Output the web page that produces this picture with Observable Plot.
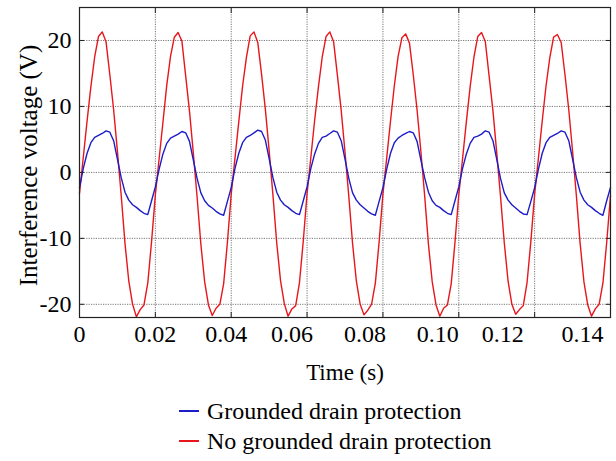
<!DOCTYPE html>
<html>
<head>
<meta charset="utf-8">
<script src="https://cdn.jsdelivr.net/npm/d3@7"></script>
<script src="https://cdn.jsdelivr.net/npm/@observablehq/plot@0.6"></script>
<style>
  html, body { margin: 0; padding: 0; background: #fff; }
  #chart { position: relative; width: 616px; height: 461px; font-family: "Liberation Serif", "Times New Roman", serif; }
  .legend { position: absolute; left: 179px; top: 396px; font-size: 24px; color: #000; }
  .row { display: flex; align-items: center; height: 30px; white-space: nowrap; }
  .swatch { display: inline-block; width: 20px; height: 1.5px; margin-right: 8px; }
</style>
</head>
<body>
<div id="chart"></div>
<script>
// Sampling step of the recorded waveforms (s)
const step = 0.001;

// Interference voltage without grounded drain protection (V), one value per ms from t = 0 to 0.14 s
const redValues = [
  -3.2, 2.3, 7.8, 13.0, 17.5, 20.6, 21.3, 19.8, 14.8, 9.5, 3.2, -3.5, -10.8, -16.5, -20.0, -21.9, -20.8, -20.1, -16.8, -10.5,
  -3.4, 2.1, 7.6, 13.2, 17.6, 20.5, 21.2, 19.9, 14.6, 9.3, 3.0, -3.7, -10.9, -16.6, -20.1, -21.7, -20.6, -20.0, -16.9, -10.6,
  -3.3, 2.2, 7.7, 13.1, 17.4, 20.7, 21.3, 19.7, 14.9, 9.6, 3.3, -3.4, -10.7, -16.4, -19.9, -21.8, -20.7, -20.2, -16.7, -10.4,
  -3.2, 2.3, 7.9, 13.0, 17.5, 20.6, 21.3, 19.8, 14.7, 9.4, 3.1, -3.6, -10.8, -16.5, -20.0, -21.6, -20.9, -20.0, -16.8, -10.5,
  -3.3, 2.2, 7.8, 13.1, 17.6, 20.4, 21.0, 19.6, 14.8, 9.5, 3.2, -3.5, -10.9, -16.6, -20.1, -21.8, -20.6, -20.1, -16.9, -10.6,
  -3.4, 2.1, 7.7, 13.0, 17.5, 20.6, 21.2, 19.8, 14.6, 9.4, 3.0, -3.6, -10.7, -16.5, -20.0, -21.5, -20.8, -20.2, -16.7, -10.5,
  -3.3, 2.2, 7.8, 13.1, 17.4, 20.5, 20.9, 19.7, 14.8, 9.5, 3.2, -3.5, -10.8, -16.6, -20.1, -21.8, -20.7, -20.0, -16.8, -10.6,
  -3.5
];

// Interference voltage with grounded drain protection (V), same sampling
const blueValues = [
  -2.3, 0.6, 2.9, 4.5, 5.3, 5.6, 5.9, 6.3, 6.1, 4.8, 2.0, -0.8, -3.0, -4.2, -4.9, -5.3, -5.8, -6.2, -6.4, -4.3,
  -2.2, 0.5, 2.8, 4.4, 5.2, 5.5, 5.8, 6.2, 6.0, 4.7, 1.9, -0.9, -3.1, -4.3, -5.0, -5.4, -5.9, -6.3, -6.5, -4.4,
  -2.3, 0.6, 2.9, 4.5, 5.3, 5.6, 6.0, 6.4, 6.2, 4.9, 2.1, -0.8, -3.0, -4.2, -4.9, -5.3, -5.8, -6.2, -6.4, -4.3,
  -2.2, 0.6, 2.8, 4.4, 5.3, 5.5, 5.9, 6.3, 6.1, 4.8, 2.0, -0.9, -3.1, -4.2, -4.9, -5.4, -5.9, -6.3, -6.5, -4.4,
  -2.3, 0.5, 2.9, 4.5, 5.2, 5.6, 5.9, 6.2, 6.0, 4.7, 1.9, -0.8, -3.0, -4.3, -5.0, -5.3, -5.8, -6.2, -6.4, -4.3,
  -2.2, 0.6, 2.8, 4.4, 5.3, 5.5, 5.8, 6.3, 6.1, 4.8, 2.0, -0.9, -3.1, -4.2, -4.9, -5.4, -5.9, -6.3, -6.4, -4.4,
  -2.3, 0.5, 2.9, 4.5, 5.3, 5.6, 5.9, 6.3, 6.1, 4.8, 2.0, -0.8, -3.0, -4.2, -4.9, -5.3, -5.8, -6.2, -6.5, -4.3,
  -2.3
];

const xTicks = [0, 0.02, 0.04, 0.06, 0.08, 0.10, 0.12, 0.14];
const xTickLabels = ["0", "0.02", "0.04", "0.06", "0.08", "0.10", "0.12", "0.14"];
const yTicks = [-20, -10, 0, 10, 20];
const yTickLabels = ["-20", "-10", "0", "10", "20"];
const seriesNames = ["Grounded drain protection", "No grounded drain protection"];
const seriesColors = ["#1c1cc8", "#e8161c"];

const blueData = blueValues.map((v, i) => ({t: i * step, v}));
const redData = redValues.map((v, i) => ({t: i * step, v}));

// horizontal nudges of the x tick labels, as they sit in the original figure (px)
const xLabelNudge = [0, 0, -5, -15, -18, -21, -32, -28];

const gridStyle = {stroke: "#777", strokeOpacity: 1, strokeWidth: 1, strokeDasharray: "1.2,1.2"};
const inTick = {tickSize: -5, tickFormat: () => "", label: null, stroke: "#222"};

const xLabelAxes = xTicks.map((t, i) =>
  Plot.axisX([t], {anchor: "bottom", tickSize: 0, tickPadding: 7, fontSize: 24,
    tickFormat: () => xTickLabels[i], label: null, dx: xLabelNudge[i]})
);

const plot = Plot.plot({
  width: 616,
  height: 392,
  marginLeft: 79,
  marginRight: 6,
  marginTop: 7,
  marginBottom: 75,
  style: {fontFamily: "'Liberation Serif', 'Times New Roman', serif", fontSize: "24px", background: "#fff", color: "#000", overflow: "visible"},
  x: {domain: [0, 0.14]},
  y: {domain: [-22, 25]},
  marks: [
    Plot.gridX(xTicks.slice(1, -1), gridStyle),
    Plot.gridY(yTicks, gridStyle),
    Plot.line(redData, {x: "t", y: "v", stroke: seriesColors[1], strokeWidth: 1.4}),
    Plot.line(blueData, {x: "t", y: "v", stroke: seriesColors[0], strokeWidth: 1.4}),
    Plot.frame({stroke: "#222", strokeWidth: 1.2}),
    // inward tick marks on all four sides
    Plot.axisX(xTicks, {anchor: "bottom", ...inTick}),
    Plot.axisX(xTicks, {anchor: "top", ...inTick}),
    Plot.axisY(yTicks, {anchor: "left", ...inTick}),
    Plot.axisY(yTicks, {anchor: "right", ...inTick}),
    // tick labels
    ...xLabelAxes,
    Plot.axisY(yTicks, {anchor: "left", tickSize: 0, tickPadding: 8, fontSize: 24,
      tickFormat: d => yTickLabels[yTicks.indexOf(d)], label: null}),
    // axis titles
    Plot.text(["Time (s)"], {frameAnchor: "bottom", dy: 55, fontSize: 23, textAnchor: "middle", lineAnchor: "middle"}),
    Plot.text(["Interference voltage (V)"], {frameAnchor: "left", rotate: -90, dx: -51, dy: 3, fontSize: 25, textAnchor: "middle", lineAnchor: "middle"})
  ]
});

const chart = document.getElementById("chart");
chart.appendChild(plot);

const legend = document.createElement("div");
legend.className = "legend";
seriesNames.forEach((name, i) => {
  const row = document.createElement("div");
  row.className = "row";
  const sw = document.createElement("span");
  sw.className = "swatch";
  sw.style.background = seriesColors[i];
  const label = document.createElement("span");
  label.textContent = name;
  row.appendChild(sw);
  row.appendChild(label);
  legend.appendChild(row);
});
chart.appendChild(legend);
</script>
</body>
</html>
